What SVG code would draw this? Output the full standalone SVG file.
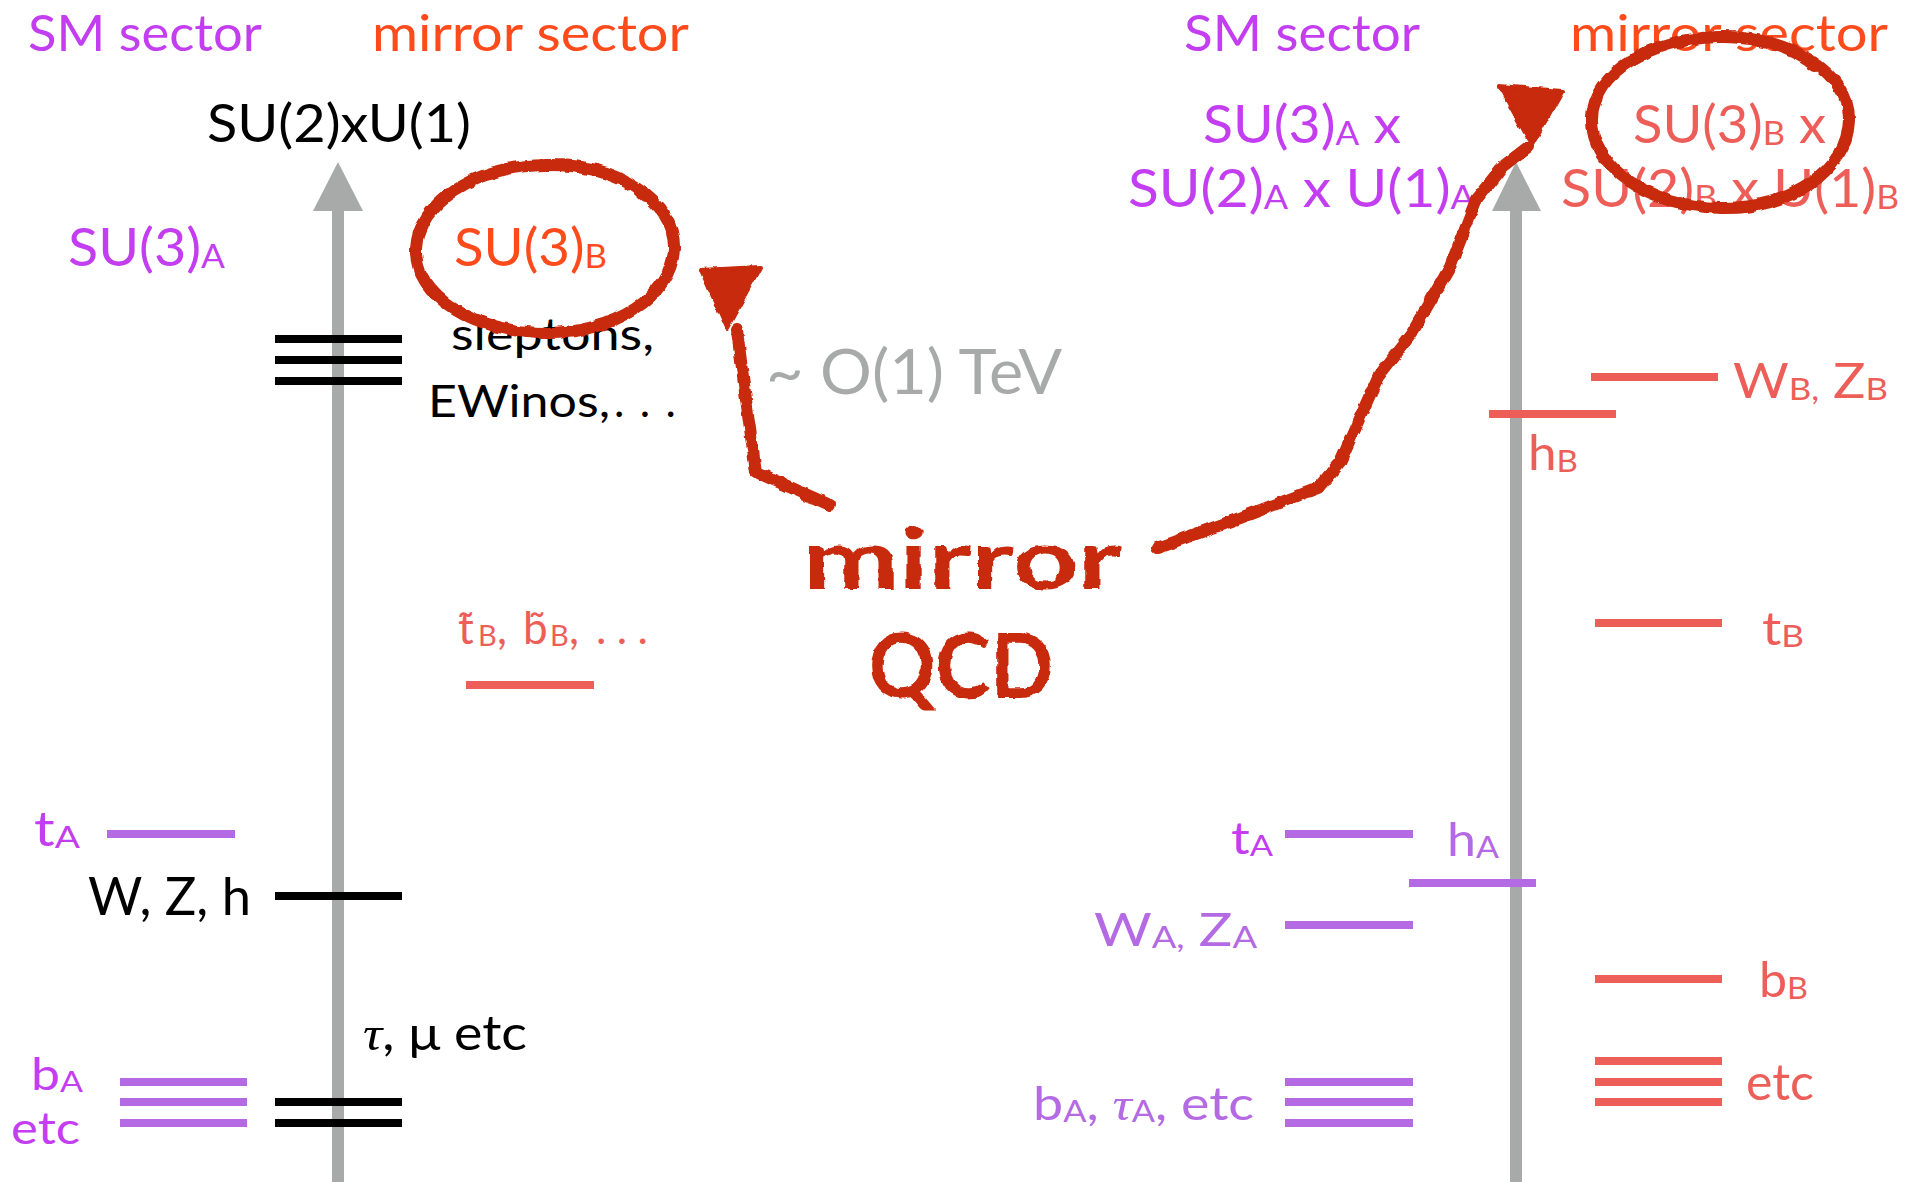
<svg xmlns="http://www.w3.org/2000/svg" width="1919" height="1182" viewBox="0 0 1919 1182">
<defs>
<style>
text{font-family:Lato,"Open Sans","Liberation Sans",sans-serif;}
.pur{fill:#C33EF0}
.lpur{fill:#B36AE2}
.org{fill:#FF4A1C}
.sal{fill:#ED5E58}
.blk{fill:#000}
.gry{fill:#A8AAA9}
.hand{font-weight:bold;fill:#C8290A}
.lv{stroke-width:8;fill:none}
.lv-b{stroke:#000}
.lv-p{stroke:#B36AE2}
.lv-s{stroke:#ED5E58}
.ax{fill:#A8AAA9}
.red{stroke:#C8290A;fill:none;stroke-width:12;stroke-linecap:round;stroke-linejoin:round}
.redf{fill:#C8290A;stroke:#C8290A;stroke-width:4;stroke-linejoin:round}
</style>
<filter id="rough" x="-10%" y="-10%" width="120%" height="120%">
<feTurbulence type="fractalNoise" baseFrequency="0.09" numOctaves="2" seed="4" result="n"/>
<feDisplacementMap in="SourceGraphic" in2="n" scale="5" xChannelSelector="R" yChannelSelector="G"/>
</filter>
</defs>
<rect width="1919" height="1182" fill="#fff"/>

<!-- axes -->
<g id="axis-left">
<rect class="ax" x="332" y="205" width="12" height="977"/>
<polygon class="ax" points="313,211 363,211 338,162"/>
</g>
<g id="axis-right">
<rect class="ax" x="1510" y="205" width="12" height="977"/>
<polygon class="ax" points="1492,211 1541,211 1516,162"/>
</g>

<!-- headers -->
<g id="hdr-sm-left"><text class="pur" x="28" y="51" font-size="50" textLength="234" lengthAdjust="spacingAndGlyphs">SM sector</text></g>
<g id="hdr-mirror-left"><text class="org" x="372" y="51" font-size="50" textLength="317" lengthAdjust="spacingAndGlyphs">mirror sector</text></g>
<g id="hdr-sm-right"><text class="pur" x="1184" y="51" font-size="50" textLength="236" lengthAdjust="spacingAndGlyphs">SM sector</text></g>
<g id="hdr-mirror-right"><text class="org" x="1570" y="51" font-size="50" textLength="318" lengthAdjust="spacingAndGlyphs">mirror sector</text></g>

<!-- left diagram labels -->
<g id="su2u1"><text class="blk" x="207" y="142" font-size="52" textLength="264" lengthAdjust="spacingAndGlyphs">SU(2)xU(1)</text></g>
<g id="su3a-left"><text class="pur" x="68" y="266" font-size="52" textLength="157" lengthAdjust="spacingAndGlyphs">SU(3)<tspan font-size="33" dy="2">A</tspan></text></g>
<g id="su3b-left"><text class="org" x="454" y="266" font-size="52" textLength="153" lengthAdjust="spacingAndGlyphs">SU(3)<tspan font-size="33" dy="2">B</tspan></text></g>

<g id="sleptons">
<line class="lv lv-b" x1="275" y1="339" x2="402" y2="339"/>
<line class="lv lv-b" x1="275" y1="360" x2="402" y2="360"/>
<line class="lv lv-b" x1="275" y1="381" x2="402" y2="381"/>
<text class="blk" font-size="44"><tspan x="451" y="350" textLength="203" lengthAdjust="spacingAndGlyphs">sleptons,</tspan><tspan x="428" y="417" textLength="182" lengthAdjust="spacingAndGlyphs">EWinos,</tspan><tspan x="614" y="417" textLength="62">. . .</tspan></text>
</g>

<g id="tev"><text class="gry" x="766" y="394" font-size="62" textLength="296" lengthAdjust="spacingAndGlyphs">~ O(1) TeV</text></g>

<g id="stops">
<line class="lv lv-s" x1="466" y1="685" x2="594" y2="685"/>
<text class="sal" font-size="44"><tspan x="458" y="644">t&#x303;</tspan><tspan x="478" y="646" font-size="29">B</tspan><tspan x="497" y="644">, </tspan><tspan x="523" y="644">b&#x303;</tspan><tspan x="550" y="646" font-size="29">B</tspan><tspan x="569" y="644">,</tspan><tspan x="596" y="644" textLength="52">. . .</tspan></text>
</g>

<g id="tA-left">
<line class="lv lv-p" x1="107" y1="834" x2="235" y2="834"/>
<text class="pur" x="34" y="846" font-size="48" textLength="46" lengthAdjust="spacingAndGlyphs">t<tspan font-size="31" dy="2">A</tspan></text>
</g>

<g id="wzh-left">
<line class="lv lv-b" x1="275" y1="896" x2="402" y2="896"/>
<text class="blk" x="88" y="915" font-size="52" textLength="163" lengthAdjust="spacingAndGlyphs">W, Z, h</text>
</g>

<g id="leptons-left">
<line class="lv lv-b" x1="275" y1="1102" x2="402" y2="1102"/>
<line class="lv lv-b" x1="275" y1="1123" x2="402" y2="1123"/>
<text class="blk" x="363" y="1050" font-size="48" textLength="164" lengthAdjust="spacingAndGlyphs"><tspan font-family="'Liberation Serif',serif" font-style="italic">τ</tspan>, μ  etc</text>
</g>

<g id="bA-left">
<line class="lv lv-p" x1="120" y1="1082" x2="247" y2="1082"/>
<line class="lv lv-p" x1="120" y1="1102" x2="247" y2="1102"/>
<line class="lv lv-p" x1="120" y1="1123" x2="247" y2="1123"/>
<text class="pur" x="31" y="1090" font-size="44" textLength="52" lengthAdjust="spacingAndGlyphs">b<tspan font-size="29" dy="2">A</tspan></text>
<text class="pur" x="11" y="1144" font-size="44" textLength="69" lengthAdjust="spacingAndGlyphs">etc</text>
</g>

<!-- right diagram labels -->
<g id="gauge-A-right">
<text class="pur" font-size="52"><tspan x="1203" y="143" textLength="198" lengthAdjust="spacingAndGlyphs">SU(3)<tspan font-size="33" dy="2">A</tspan><tspan dy="-2"> x</tspan></tspan><tspan x="1128" y="207" textLength="347" lengthAdjust="spacingAndGlyphs">SU(2)<tspan font-size="33" dy="2">A</tspan><tspan dy="-2"> x U(1)</tspan><tspan font-size="33" dy="2">A</tspan></tspan></text>
</g>
<g id="gauge-B-right">
<text class="sal" font-size="52"><tspan x="1633" y="143" textLength="193" lengthAdjust="spacingAndGlyphs">SU(3)<tspan font-size="33" dy="2">B</tspan><tspan dy="-2"> x</tspan></tspan><tspan x="1561" y="207" textLength="338" lengthAdjust="spacingAndGlyphs">SU(2)<tspan font-size="33" dy="2">B</tspan><tspan dy="-2"> x U(1)</tspan><tspan font-size="33" dy="2">B</tspan></tspan></text>
</g>

<g id="wzB">
<line class="lv lv-s" x1="1591" y1="377" x2="1718" y2="377"/>
<text class="sal" x="1733" y="398" font-size="48" textLength="155" lengthAdjust="spacingAndGlyphs">W<tspan font-size="31" dy="2">B,</tspan><tspan dy="-2"> Z</tspan><tspan font-size="31" dy="2">B</tspan></text>
</g>
<g id="hB">
<line class="lv lv-s" x1="1489" y1="414" x2="1616" y2="414"/>
<text class="sal" x="1528" y="470" font-size="48" textLength="50" lengthAdjust="spacingAndGlyphs">h<tspan font-size="31" dy="2">B</tspan></text>
</g>
<g id="tB">
<line class="lv lv-s" x1="1595" y1="623" x2="1722" y2="623"/>
<text class="sal" x="1762" y="645" font-size="46" textLength="42" lengthAdjust="spacingAndGlyphs">t<tspan font-size="30" dy="2">B</tspan></text>
</g>
<g id="tA-right">
<line class="lv lv-p" x1="1285" y1="834" x2="1413" y2="834"/>
<text class="pur" x="1231" y="854" font-size="44" textLength="42" lengthAdjust="spacingAndGlyphs">t<tspan font-size="29" dy="2">A</tspan></text>
</g>
<g id="hA">
<line class="lv lv-p" x1="1409" y1="883" x2="1536" y2="883"/>
<text class="lpur" x="1447" y="856" font-size="46" textLength="52" lengthAdjust="spacingAndGlyphs">h<tspan font-size="30" dy="2">A</tspan></text>
</g>
<g id="wzA">
<line class="lv lv-p" x1="1285" y1="925" x2="1413" y2="925"/>
<text class="lpur" x="1094" y="946" font-size="46" textLength="163" lengthAdjust="spacingAndGlyphs">W<tspan font-size="30" dy="2">A,</tspan><tspan dy="-2"> Z</tspan><tspan font-size="30" dy="2">A</tspan></text>
</g>
<g id="bB">
<line class="lv lv-s" x1="1595" y1="979" x2="1722" y2="979"/>
<text class="sal" x="1759" y="997" font-size="48" textLength="49" lengthAdjust="spacingAndGlyphs">b<tspan font-size="31" dy="2">B</tspan></text>
</g>
<g id="bA-right">
<line class="lv lv-p" x1="1285" y1="1082" x2="1413" y2="1082"/>
<line class="lv lv-p" x1="1285" y1="1102" x2="1413" y2="1102"/>
<line class="lv lv-p" x1="1285" y1="1123" x2="1413" y2="1123"/>
<text class="lpur" x="1033" y="1120" font-size="47" textLength="221" lengthAdjust="spacingAndGlyphs">b<tspan font-size="30" dy="2">A</tspan><tspan dy="-2">, </tspan><tspan font-family="'Liberation Serif',serif" font-style="italic">τ</tspan><tspan font-size="30" dy="2">A</tspan><tspan dy="-2">, etc</tspan></text>
</g>
<g id="etc-B-right">
<line class="lv lv-s" x1="1595" y1="1061" x2="1722" y2="1061"/>
<line class="lv lv-s" x1="1595" y1="1082" x2="1722" y2="1082"/>
<line class="lv lv-s" x1="1595" y1="1102" x2="1722" y2="1102"/>
<text class="sal" x="1746" y="1100" font-size="50" textLength="68" lengthAdjust="spacingAndGlyphs">etc</text>
</g>

<!-- hand-drawn annotation -->
<g id="mirror-qcd" filter="url(#rough)">
<text class="hand" x="803" y="589" font-size="84" textLength="318" lengthAdjust="spacingAndGlyphs">mirror</text>
<text class="hand" x="868" y="698" font-size="90" textLength="186" lengthAdjust="spacingAndGlyphs">QCD</text>
</g>
<g id="ellipse-left" filter="url(#rough)">
<path class="red" d="M545,165 C616,163 676,201 674,249 C672,296 614,334 545,333 C474,332 414,296 416,249 C418,203 474,166 545,165 C592,164 626,176 646,197"/>
</g>
<g id="ellipse-right" filter="url(#rough)">
<path class="red" d="M1718,37 C1790,35 1850,74 1849,120 C1848,170 1790,210 1720,208 C1650,206 1590,168 1592,118 C1594,72 1650,39 1718,37 C1762,36 1796,50 1815,66"/>
</g>

<g id="connectors" filter="url(#rough)">
<path class="red" d="M830,505 L756,472 L746,400 L737,330"/>
<polygon class="redf" points="701,270 760,267 727,328"/>
<path class="red" d="M1157,548 L1240,518 L1318,488 L1340,462 L1378,377 L1412,333 L1450,267 L1476,200 L1502,167 L1528,147"/>
<polygon class="redf" points="1499,86 1562,91 1532,145"/>
</g>
</svg>
